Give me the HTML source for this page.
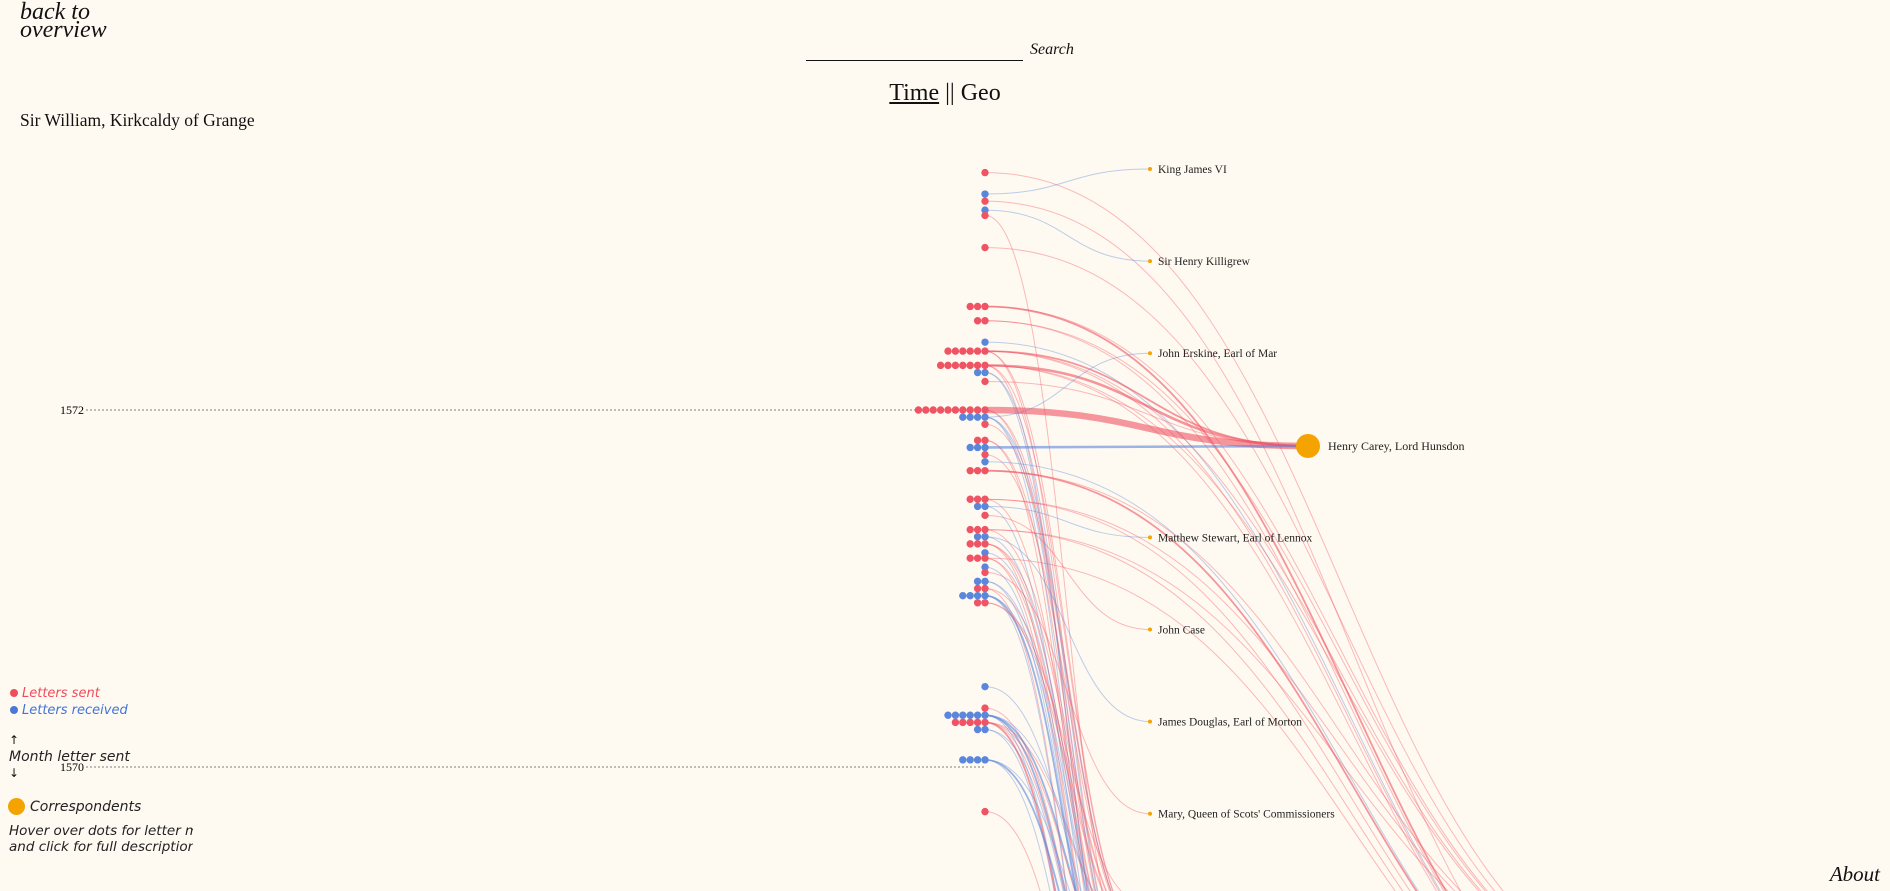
<!DOCTYPE html>
<html><head><meta charset="utf-8">
<style>
html,body{margin:0;padding:0;background:#fffaf1;width:1890px;height:891px;overflow:hidden;}
body{position:relative;font-family:"Liberation Serif",serif;color:#111;}
.abs{position:absolute;}
#back{left:20px;top:3px;font-style:italic;font-size:24px;line-height:18px;}
#search-line{left:806px;top:60px;width:217px;border-bottom:1.5px solid #111;height:0;}
#search-label{left:1030px;top:41px;font-style:italic;font-size:16px;}
#tabs{left:0;width:1890px;top:80px;text-align:center;font-size:24px;}
#who{left:20px;top:110px;font-size:17.5px;}
.leg{font-family:"DejaVu Sans","Liberation Sans",sans-serif;font-style:italic;font-size:13px;}
#about{right:10px;top:862px;font-style:italic;font-size:21px;}
svg{position:absolute;left:0;top:0;}
</style></head>
<body>
<div class="abs" id="back">back to<br>overview</div>
<div class="abs" id="search-line"></div>
<div class="abs" id="search-label">Search</div>
<div class="abs" id="tabs"><span style="text-decoration:underline">Time</span> || <span>Geo</span></div>
<div class="abs" id="who">Sir William, Kirkcaldy of Grange</div>

<svg id="chart" width="1890" height="891"></svg>

<div class="abs leg" style="left:10px;top:686px;color:#ef4c5c"><span style="display:inline-block;width:8px;height:8px;border-radius:50%;background:#ef4c5c;margin-right:4px"></span>Letters sent</div>
<div class="abs leg" style="left:10px;top:703px;color:#3f74d8"><span style="display:inline-block;width:8px;height:8px;border-radius:50%;background:#4a78d8;margin-right:4px"></span>Letters received</div>
<div class="abs leg" style="left:9px;top:733px;font-size:12px;font-style:normal">↑</div>
<div class="abs leg" style="left:9px;top:749px;color:#222;font-size:14px">Month letter sent</div>
<div class="abs leg" style="left:9px;top:766px;font-size:12px;font-style:normal">↓</div>
<div class="abs leg" style="left:8px;top:798px;color:#222;font-size:14px"><span style="display:inline-block;width:17px;height:17px;border-radius:50%;background:#f4a300;vertical-align:-4px;margin-right:5px"></span>Correspondents</div>
<div class="abs leg" style="left:9px;top:823px;width:184px;overflow:hidden;white-space:nowrap;color:#222;line-height:16px;font-size:13.5px">Hover over dots for letter metadata<br>and click for full description.</div>
<div class="abs" id="about">About</div>

<script>
const yearTicks = [1570, 1572];
const rowYears = [1573.33,1573.21,1573.17,1573.12,1573.09,1572.91,1572.58,1572.50,1572.38,1572.33,1572.25,1572.21,1572.16,1572.00,1571.96,1571.92,1571.83,1571.79,1571.75,1571.71,1571.66,1571.50,1571.46,1571.41,1571.33,1571.29,1571.25,1571.20,1571.17,1571.12,1571.09,1571.04,1571.00,1570.96,1570.92,1570.45,1570.33,1570.29,1570.25,1570.21,1570.04,1569.75];
const rowTypes = ['s','r','s','r','s','s','s','s','r','s','s','r','s','s','r','s','s','r','s','r','s','s','r','s','s','r','s','r','s','r','s','r','s','r','s','r','s','r','s','r','r','s'];
const rowTargets = [[11],[0],[16],[1],[13],[11],[11,16,16],[11,16],[16],[3,3,11,16,12,13],[3,3,3,11,16,12,14],[13,14],[3],[3,3,3,3,3,3,3,3,12,13],[2,13,14,12],[12],[13,14],[3,3,3],[12],[16],[11,16,16],[11,16,13],[4,14],[5],[16,11,12],[6,13],[9,12,14],[13],[16,10,13],[14],[7],[13,14],[12,15],[13,14,14,15],[8,12],[9],[14],[13,13,14,14,15,12],[13,12,14,15,15],[14,15],[13,14,14,15],[15]];
const corrNames = ["King James VI","Sir Henry Killigrew","John Erskine, Earl of Mar","Henry Carey, Lord Hunsdon","Matthew Stewart, Earl of Lennox","John Case","James Douglas, Earl of Morton","Mary, Queen of Scots' Commissioners","","","","","","","","",""];

const NS = "http://www.w3.org/2000/svg";
const svg = document.getElementById('chart');
const y0 = 767, y1 = 410;
function yScale(yr){ return y0 + (yr - 1570) * (y1 - y0) / 2; }
const dotX = 985, dotStep = 7.4, dotR = 3.7;
const corrX = 1150;
function corrPos(i){
  if (i === 3) return {x:1308, y:446, big:true};
  if (i === 11) return {x:1700, y:1000, big:true};
  if (i === 16) return {x:1720, y:1100, big:true};
  if (i >= 12) return {x:corrX, y:[940,1010,1090,1200][i-12], big:false};
  return {x:corrX, y:169 + i*92.1, big:false};
}
const RED = '#ef5464', BLUE = '#5a86dc';

const gAxis = document.createElementNS(NS,'g');


svg.appendChild(gAxis);
yearTicks.forEach(function(yr){
  const y = yScale(yr);
  const ln = document.createElementNS(NS,'line');
  
  
  ln.setAttribute('x1',86); ln.setAttribute('x2',dotX); ln.setAttribute('y1',y); ln.setAttribute('y2',y);
  ln.setAttribute('stroke','#555'); ln.setAttribute('stroke-width','0.8'); ln.setAttribute('stroke-dasharray','2,2');
  gAxis.appendChild(ln);
  const t = document.createElementNS(NS,'text');
  
  
  t.setAttribute('x',84); t.setAttribute('y',y+4); t.setAttribute('text-anchor','end');
  t.setAttribute('font-family','Liberation Serif, serif'); t.setAttribute('font-size','12');
  t.textContent = yr;
  gAxis.appendChild(t);
});

const gLines = document.createElementNS(NS,'g');


svg.appendChild(gLines);
const gDots = document.createElementNS(NS,'g');


svg.appendChild(gDots);
const gCorr = document.createElementNS(NS,'g');


svg.appendChild(gCorr);

rowYears.forEach(function(yr, r){
  const y = yScale(yr);
  const col = rowTypes[r] === 's' ? RED : BLUE;
  const tg = rowTargets[r];
  const counts = {};
  tg.forEach(function(t){ counts[t] = (counts[t]||0) + 1; });
  Object.keys(counts).forEach(function(k){
    const n = counts[k];
    const p = corrPos(+k);
    const mx = (dotX + p.x) / 2;
    const path = document.createElementNS(NS,'path');
    
    
    path.setAttribute('d','M'+dotX+','+y+' C'+mx+','+y+' '+mx+','+p.y+' '+p.x+','+p.y);
    path.setAttribute('fill','none');
    path.setAttribute('stroke',col);
    path.setAttribute('stroke-width', (1 + (n-1)*0.8).toFixed(1));
    path.setAttribute('stroke-opacity', n > 1 ? 0.6 : 0.4);
    gLines.appendChild(path);
  });
  tg.forEach(function(t, i){
    const c = document.createElementNS(NS,'circle');
    
    
    c.setAttribute('cx', dotX - i*dotStep);
    c.setAttribute('cy', y);
    c.setAttribute('r', dotR);
    c.setAttribute('fill', col);
    gDots.appendChild(c);
  });
});

corrNames.forEach(function(nm, i){
  const p = corrPos(i);
  if (p.y > 900) return;
  const c = document.createElementNS(NS,'circle');
  
  
  c.setAttribute('cx', p.x); c.setAttribute('cy', p.y);
  c.setAttribute('r', p.big ? 12 : 2);
  c.setAttribute('fill','#f4a300');
  gCorr.appendChild(c);
  const t = document.createElementNS(NS,'text');
  
  
  t.setAttribute('x', p.x + (p.big ? 20 : 8)); t.setAttribute('y', p.y + 4);
  t.setAttribute('font-family','Liberation Serif, serif'); t.setAttribute('font-size', p.big ? '12' : '11.5');
  t.setAttribute('fill','#222');
  t.textContent = nm;
  gCorr.appendChild(t);
});
</script>
</body></html>
